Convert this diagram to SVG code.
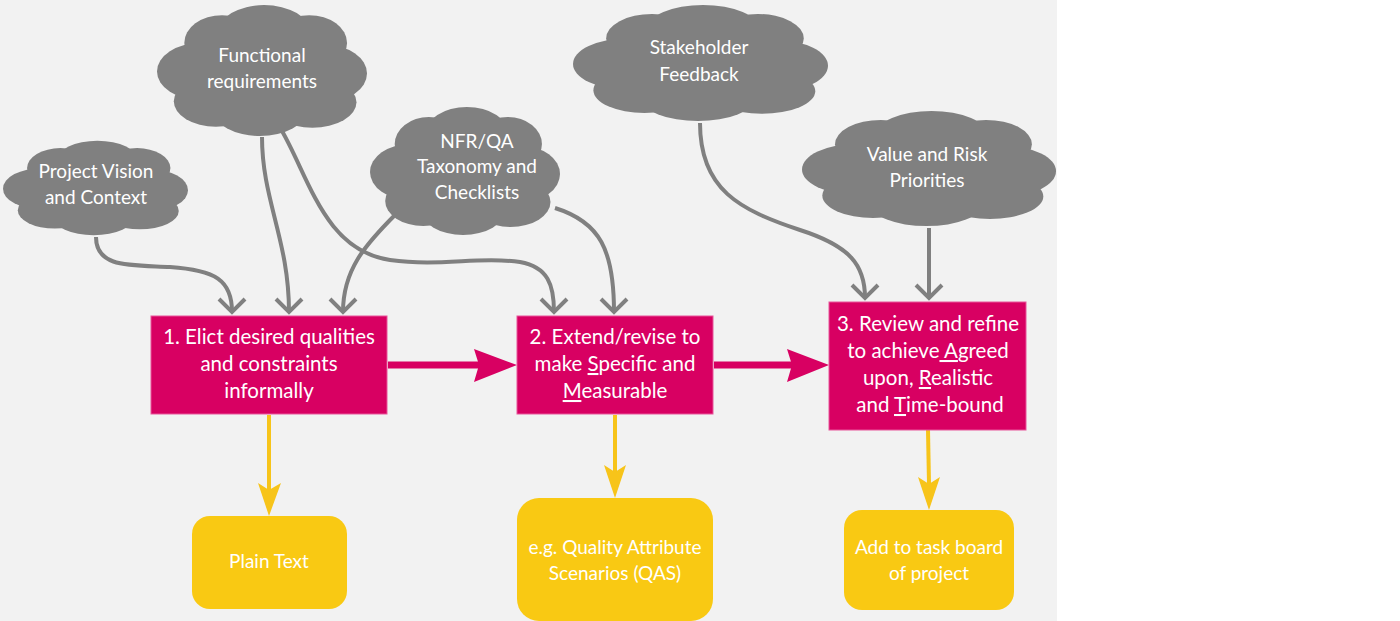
<svg xmlns="http://www.w3.org/2000/svg" xmlns:xlink="http://www.w3.org/1999/xlink" width="1400" height="621" viewBox="0 0 1400 621">
<style>
.t{font-family:Lato,"Open Sans","Liberation Sans",sans-serif;fill:#fff;text-anchor:middle}
.c{font-size:19px}
.b{font-size:20.5px}
.y{font-size:19px}
.step{fill:#d80062;stroke:#e8559a;stroke-width:1}
.out{fill:#f9c913}
.g{fill:none;stroke:#808080;stroke-width:4;marker-end:url(#chev)}
.yl{stroke:#f7c41a;stroke-width:4}
.ya{fill:#f7c41a}
.pl{stroke:#d80062;stroke-width:7}
.pa{fill:#d80062}
.u{text-decoration:underline}
</style>
<defs>
<symbol id="cloud" viewBox="0 0 200 130" preserveAspectRatio="none">
<g fill="#808080">
<ellipse cx="42" cy="66" rx="42" ry="28"/>
<ellipse cx="62" cy="38" rx="36" ry="27"/>
<ellipse cx="102" cy="28" rx="44" ry="27"/>
<ellipse cx="145" cy="38" rx="36" ry="27"/>
<ellipse cx="160" cy="68" rx="40" ry="28"/>
<ellipse cx="148" cy="96" rx="42" ry="25"/>
<ellipse cx="98" cy="104" rx="44" ry="25"/>
<ellipse cx="56" cy="95" rx="40" ry="25"/>
<ellipse cx="100" cy="66" rx="75" ry="40"/>
</g>
</symbol>
<marker id="chev" markerUnits="userSpaceOnUse" viewBox="-16 -16 32 32" markerWidth="32" markerHeight="32" refX="0" refY="0" orient="auto">
<path d="M-13,-13 L0,0 L-13,13" fill="none" stroke="#808080" stroke-width="4"/>
</marker>
</defs>
<rect x="0" y="0" width="1057" height="621" fill="#f2f2f2"/>

<g id="connectors">
<path class="g" d="M96,237 C96,268 130,265 170,267 C215,270 232,280 232,312"/>
<path class="g" d="M262,137 C262,200 289,240 289,312"/>
<path class="g" d="M282,131 C310,180 325,250 390,260 C440,267 480,256 520,262 C548,267 554,285 554,312"/>
<path class="g" d="M395,215 C365,245 343,270 343,312"/>
<path class="g" d="M555,208 C600,222 614,250 614,312"/>
<path class="g" d="M700,123 C700,190 740,210 800,230 C850,246 865,265 865,298"/>
<path class="g" d="M929,228 L929,298"/>
<line class="pl" x1="388" y1="365" x2="480" y2="365"/>
<polygon class="pa" points="474,349 517,365 474,382 479,365"/>
<line class="pl" x1="714" y1="365" x2="792" y2="365"/>
<polygon class="pa" points="787,349 829,365 787,382 792,365"/>
<line class="yl" x1="269" y1="415" x2="269" y2="490"/>
<polygon class="ya" points="258,483 269,516 281,483 269,490"/>
<line class="yl" x1="615" y1="415" x2="615" y2="472"/>
<polygon class="ya" points="604,465 615,498 626,465 615,472"/>
<line class="yl" x1="928" y1="430" x2="929" y2="484"/>
<polygon class="ya" points="918,477 929,510 940,477 929,484"/>
</g>

<g id="cloud-vision">
<use xlink:href="#cloud" href="#cloud" x="3" y="140" width="185" height="96"/>
<text class="t c" x="96" y="178">Project Vision</text>
<text class="t c" x="96" y="204">and Context</text>
</g>
<g id="cloud-functional">
<use xlink:href="#cloud" href="#cloud" x="157" y="4" width="210" height="133"/>
<text class="t c" x="262" y="62">Functional</text>
<text class="t c" x="262" y="88">requirements</text>
</g>
<g id="cloud-nfr">
<use xlink:href="#cloud" href="#cloud" x="370" y="106" width="190" height="130"/>
<text class="t c" x="477" y="148">NFR/QA</text>
<text class="t c" x="477" y="173">Taxonomy and</text>
<text class="t c" x="477" y="199">Checklists</text>
</g>
<g id="cloud-stakeholder">
<use xlink:href="#cloud" href="#cloud" x="573" y="4" width="255" height="118"/>
<text class="t c" x="699" y="54">Stakeholder</text>
<text class="t c" x="699" y="81">Feedback</text>
</g>
<g id="cloud-value">
<use xlink:href="#cloud" href="#cloud" x="802" y="110" width="254" height="117"/>
<text class="t c" x="927" y="161">Value and Risk</text>
<text class="t c" x="927" y="187">Priorities</text>
</g>

<g id="step1">
<rect class="step" x="151" y="316" width="236" height="98"/>
<text class="t b" x="269" y="344">1. Elict desired qualities</text>
<text class="t b" x="269" y="371">and constraints</text>
<text class="t b" x="269" y="398">informally</text>
</g>
<g id="step2">
<rect class="step" x="517" y="316" width="196" height="98"/>
<text class="t b" x="615" y="344">2. Extend/revise to</text>
<text class="t b" x="615" y="371">make <tspan class="u">S</tspan>pecific and</text>
<text class="t b" x="615" y="398"><tspan class="u">M</tspan>easurable</text>
</g>
<g id="step3">
<rect class="step" x="829" y="302" width="197" height="128"/>
<text class="t b" x="928" y="331">3. Review and refine</text>
<text class="t b" x="928" y="358">to achieve<tspan class="u"> A</tspan>greed</text>
<text class="t b" x="928" y="385">upon, <tspan class="u">R</tspan>ealistic</text>
<text class="t b" x="930" y="412">and <tspan class="u">T</tspan>ime-bound</text>
</g>

<g id="out1">
<rect class="out" x="192" y="516" width="155" height="93" rx="18"/>
<text class="t y" x="269" y="568">Plain Text</text>
</g>
<g id="out2">
<rect class="out" x="517" y="498" width="196" height="123" rx="22"/>
<text class="t y" x="615" y="554">e.g. Quality Attribute</text>
<text class="t y" x="615" y="580">Scenarios (QAS)</text>
</g>
<g id="out3">
<rect class="out" x="844" y="510" width="170" height="100" rx="18"/>
<text class="t y" x="929" y="554">Add to task board</text>
<text class="t y" x="929" y="580">of project</text>
</g>
</svg>
